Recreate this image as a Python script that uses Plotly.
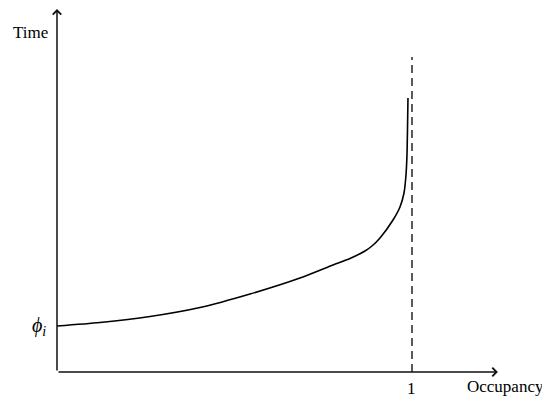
import plotly.graph_objects as go

# Curve data (occupancy vs time, arbitrary units; occupancy 1 = asymptote)
occupancy = [0.0, 0.1211, 0.262, 0.4028, 0.5437, 0.6845, 0.7775, 0.8254, 0.8676,
             0.8873, 0.9099, 0.9465, 0.9662, 0.9775, 0.9831, 0.9859, 0.9873, 0.9887]
time = [0.46, 0.495, 0.555, 0.645, 0.78, 0.94, 1.07, 1.135, 1.21,
        1.26, 1.34, 1.52, 1.65, 1.79, 1.97, 2.17, 2.42, 2.74]
asymptote_x = 1.0
asymptote_top = 3.15
x_axis_end = 1.242
y_axis_end = 3.63
phi_i = 0.46

FONT = "Liberation Serif, Times New Roman, serif"

fig = go.Figure()
fig.add_trace(go.Scatter(x=occupancy, y=time, mode="lines",
                         line=dict(color="black", width=1.6, shape="spline", smoothing=0.7),
                         hoverinfo="skip", showlegend=False))
# dashed asymptote
fig.add_trace(go.Scatter(x=[asymptote_x, asymptote_x], y=[0, asymptote_top], mode="lines",
                         line=dict(color="#333333", width=1.6, dash="8px,5px"),
                         hoverinfo="skip", showlegend=False))

# axes with arrowheads
fig.add_annotation(x=x_axis_end, y=0, ax=0, ay=0, xref="x", yref="y", axref="x", ayref="y",
                   showarrow=True, arrowhead=4, arrowsize=1.1, arrowwidth=1.5,
                   arrowcolor="#111111", text="")
fig.add_annotation(x=0, y=y_axis_end, ax=0, ay=0, xref="x", yref="y", axref="x", ayref="y",
                   showarrow=True, arrowhead=4, arrowsize=1.1, arrowwidth=1.5,
                   arrowcolor="#111111", text="")

fig.add_annotation(x=-0.076, y=3.4, text="Time", showarrow=False,
                   font=dict(family=FONT, size=17, color="black"))
fig.add_annotation(x=1.262, y=-0.14, text="Occupancy", showarrow=False,
                   font=dict(family=FONT, size=17, color="black"))
fig.add_annotation(x=asymptote_x, y=-0.165, text="1", showarrow=False,
                   font=dict(family=FONT, size=17, color="black"))
fig.add_annotation(x=-0.05, y=phi_i, text="<i>ϕ<sub>i</sub></i>", showarrow=False,
                   font=dict(family=FONT, size=20, color="black"))

# page body has an 8px margin; ranges compensate so the picture lands as in the reference
fig.update_layout(
    width=550, height=401,
    margin=dict(l=0, r=0, t=0, b=0),
    paper_bgcolor="white", plot_bgcolor="white",
    xaxis=dict(range=[-0.138, 1.4113], visible=False, fixedrange=True),
    yaxis=dict(range=[-0.37, 3.64], visible=False, fixedrange=True),
)

fig.write_html("out.html")
